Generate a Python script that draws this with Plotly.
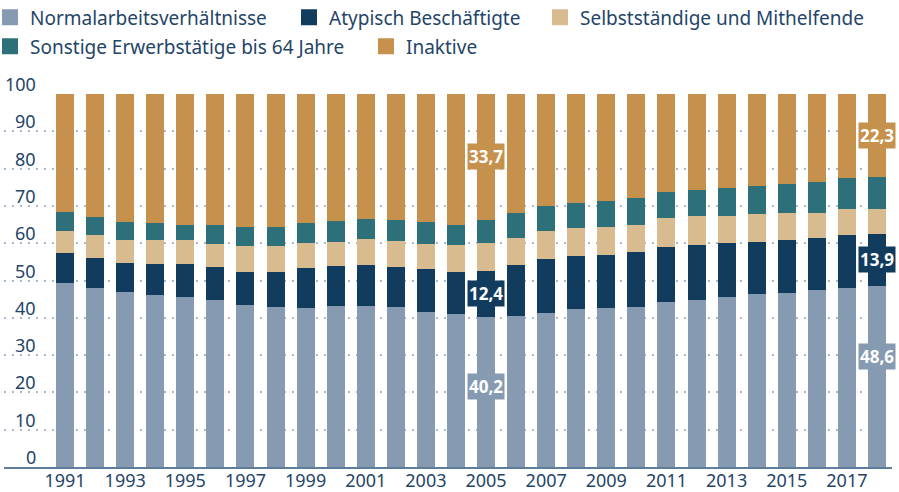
import plotly.graph_objects as go

years = list(range(1991, 2019))
normal = [49.2, 47.9, 46.8, 46.0, 45.5, 44.7, 43.4, 42.8, 42.5, 43.1, 43.1, 42.8, 41.5, 40.9,
          40.2, 40.4, 41.2, 42.3, 42.5, 42.8, 44.2, 44.9, 45.5, 46.3, 46.6, 47.4, 47.9, 48.6]
atyp = [8.1, 8.1, 7.8, 8.3, 8.8, 8.8, 9.0, 9.6, 10.8, 10.7, 11.0, 10.7, 11.5, 11.3,
        12.4, 13.7, 14.5, 14.2, 14.3, 14.8, 14.7, 14.6, 14.5, 13.9, 14.2, 13.9, 14.2, 13.9]
selbst = [5.9, 6.1, 6.2, 6.5, 6.5, 6.2, 6.8, 6.8, 6.7, 6.4, 6.9, 7.0, 6.7, 7.3,
          7.4, 7.4, 7.5, 7.5, 7.5, 7.4, 7.8, 7.7, 7.2, 7.5, 7.2, 6.9, 7.0, 6.6]
sonst = [5.1, 4.8, 4.8, 4.5, 4.2, 5.1, 5.1, 5.1, 5.3, 5.7, 5.4, 5.6, 5.9, 5.5,
         6.3, 6.5, 6.7, 6.9, 6.9, 7.0, 7.0, 7.0, 7.5, 7.6, 7.8, 8.1, 8.3, 8.6]
inaktiv = [31.7, 33.1, 34.4, 34.7, 35.0, 35.2, 35.7, 35.7, 34.7, 34.1, 33.6, 33.9, 34.4, 35.0,
           33.7, 32.0, 30.1, 29.1, 28.8, 28.0, 26.3, 25.8, 25.3, 24.7, 24.2, 23.7, 22.6, 22.3]

names = ["Normalarbeitsverhältnisse", "Atypisch Beschäftigte", "Selbstständige und Mithelfende",
         "Sonstige Erwerbstätige bis 64 Jahre", "Inaktive"]
colors = ["#869bb2", "#123c5e", "#d8bb8f", "#2d707a", "#c6914c"]
series = [normal, atyp, selbst, sonst, inaktiv]

y_ticks = list(range(0, 101, 10))
x_ticks = list(range(1991, 2018, 2))
label_years = [2005, 2018]
normal_label_y = [21.6, 29.7]

FONT = "Noto Sans"
TXT = "#1f4568"
W, H = 899, 492
ML, MR, MT, MB = 4, 7, 94, 25
PW = W - ML - MR

fig = go.Figure()
for nm, col, vals in zip(names, colors, series):
    fig.add_trace(go.Bar(x=years, y=vals, name=nm, marker=dict(color=col, line=dict(width=0)),
                         showlegend=False))

# legend entries (one legend per entry for free placement)
leg_pos = [(-10, 17.5), (289, 17.5), (540, 17.5), (-10, 46.5), (366, 46.5)]
for i, (nm, col) in enumerate(zip(names, colors)):
    lname = "legend" if i == 0 else f"legend{i+1}"
    fig.add_trace(go.Scatter(x=[None], y=[None], mode="markers", name=nm,
                             marker=dict(symbol="square", size=16, color=col),
                             legend=lname, showlegend=True))
    px, py = leg_pos[i]
    fig.update_layout({lname: dict(xref="paper", yref="container", x=(px - ML) / PW, y=1 - py / H,
                                   xanchor="left", yanchor="middle", orientation="h",
                                   bgcolor="rgba(0,0,0,0)", font=dict(family=FONT, size=19, color=TXT),
                                   itemclick=False, itemdoubleclick=False)})

annotations = []
for v in y_ticks:
    annotations.append(dict(text=str(v), xref="paper", x=0, xshift=34, xanchor="right",
                            yref="y", y=v, yanchor="bottom", yshift=-4, showarrow=False,
                            font=dict(family=FONT, size=18, color=TXT)))

for k, yr in enumerate(label_years):
    i = years.index(yr)
    base = 0
    for s, (vals, col) in enumerate(zip(series, colors)):
        v = vals[i]
        if s in (0, 1, 4):
            ypos = normal_label_y[k] if s == 0 else base + v / 2
            annotations.append(dict(text=f"{v:.1f}".replace(".", ","), x=yr, y=ypos, xref="x", yref="y",
                                    showarrow=False, bgcolor=col, borderpad=1,
                                    font=dict(family=FONT, size=17, color="white", weight="bold")))
        base += v

fig.update_layout(
    barmode="stack", bargap=0.4,
    width=W, height=H,
    margin=dict(l=ML, r=MR, t=MT, b=MB, autoexpand=False),
    plot_bgcolor="white", paper_bgcolor="white",
    font=dict(family=FONT, size=18, color=TXT),
    hovermode=False,
    xaxis=dict(range=[1988.97, 2018.5], tickvals=x_ticks, ticks="", showgrid=False,
               showline=True, linecolor="#5d7d9b", linewidth=1.5, zeroline=False,
               ticklabelstandoff=-3,
               tickfont=dict(family=FONT, size=18, color=TXT)),
    yaxis=dict(range=[0, 100], tickvals=y_ticks, showticklabels=False, showgrid=True,
               gridcolor="#a9b8c9", gridwidth=1.5, griddash="2px,6px", zeroline=False),
    annotations=annotations,
)

fig.write_html("out.html", config={"displayModeBar": False},
               post_script="document.body.style.margin='0';")
